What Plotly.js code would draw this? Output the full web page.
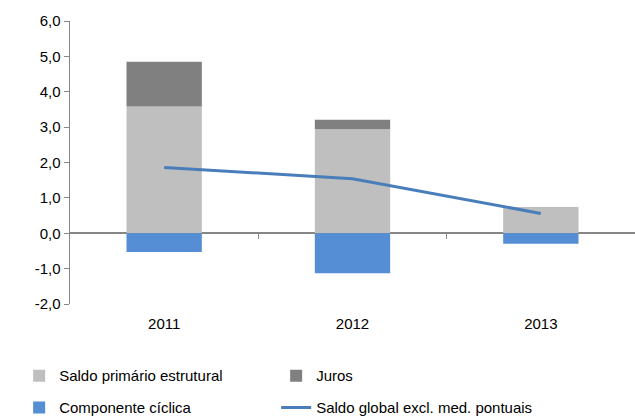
<!DOCTYPE html>
<html>
<head>
<meta charset="utf-8">
<script src="https://cdn.plot.ly/plotly-3.0.1.min.js"></script>
<style>html,body{margin:0;padding:0;background:#fff;}#chart{width:635px;height:417px;}</style>
</head>
<body>
<div id="chart"></div>
<script>
const years = ['2011', '2012', '2013'];
const saldoPrimario = [3.58, 2.94, 0.74];
const juros = [1.27, 0.27, 0];
const componenteCiclica = [-0.53, -1.13, -0.30];
const saldoGlobal = [1.86, 1.54, 0.56];
const yTicks = [-2, -1, 0, 1, 2, 3, 4, 5, 6];

const xs = years.map((_, i) => i);
const yTickText = yTicks.map(v => v.toFixed(1).replace('.', ','));
const font = {family: 'Liberation Sans, Arial, sans-serif', size: 15, color: '#000'};

const traces = [
  {type: 'bar', name: 'Saldo primário estrutural', x: xs, y: saldoPrimario, legend: 'legend',
   marker: {color: '#BFBFBF', line: {width: 0}}, width: 0.4},
  {type: 'bar', name: 'Juros', x: xs, y: juros, legend: 'legend',
   marker: {color: '#808080', line: {width: 0}}, width: 0.4},
  {type: 'bar', name: 'Componente cíclica', x: xs, y: componenteCiclica, legend: 'legend2',
   marker: {color: '#558ED5', line: {width: 0}}, width: 0.4},
  {type: 'scatter', mode: 'lines', name: 'Saldo global excl. med. pontuais', x: xs, y: saldoGlobal,
   legend: 'legend2', line: {color: '#4A7EBB', width: 3}},
  {type: 'scatter', mode: 'lines', x: [0.5], y: [0], xaxis: 'x2', showlegend: false,
   hoverinfo: 'skip', line: {width: 0}, opacity: 0}
];

const legendBase = {orientation: 'h', x: -0.09, xanchor: 'left', yanchor: 'middle',
  entrywidth: 212, entrywidthmode: 'pixels', font: font, traceorder: 'normal',
  bgcolor: 'rgba(0,0,0,0)'};

const layout = {
  width: 635, height: 417,
  margin: {l: 70, r: 0, t: 21, b: 113, autoexpand: false},
  paper_bgcolor: '#fff', plot_bgcolor: '#fff',
  font: font,
  separators: ',.',
  barmode: 'relative',
  showlegend: true,
  legend: Object.assign({}, legendBase, {y: -0.254}),
  legend2: Object.assign({}, legendBase, {y: -0.367}),
  xaxis: {range: [-0.5, 2.5], tickvals: xs, ticktext: years, ticks: '', showline: false,
          showgrid: false, zeroline: false, tickfont: font, fixedrange: true,
          ticklabelstandoff: 9, automargin: false},
  xaxis2: {overlaying: 'x', anchor: 'free', position: 0.25, range: [-0.5, 2.5],
           tickvals: [0.5, 1.5], ticks: 'outside', ticklen: 5, tickcolor: '#868686', tickwidth: 1,
           showticklabels: false, showline: false, showgrid: false, zeroline: false, automargin: false},
  yaxis: {range: [-2, 6], tickvals: yTicks, ticktext: yTickText, showgrid: false,
          showline: true, linecolor: '#868686', linewidth: 1.5, ticks: 'outside', ticklen: 5,
          tickcolor: '#868686', zeroline: true, zerolinecolor: '#868686', zerolinewidth: 2,
          tickfont: font, fixedrange: true, automargin: false}
};

Plotly.newPlot('chart', traces, layout, {displayModeBar: false, staticPlot: true});
</script>
</body>
</html>
